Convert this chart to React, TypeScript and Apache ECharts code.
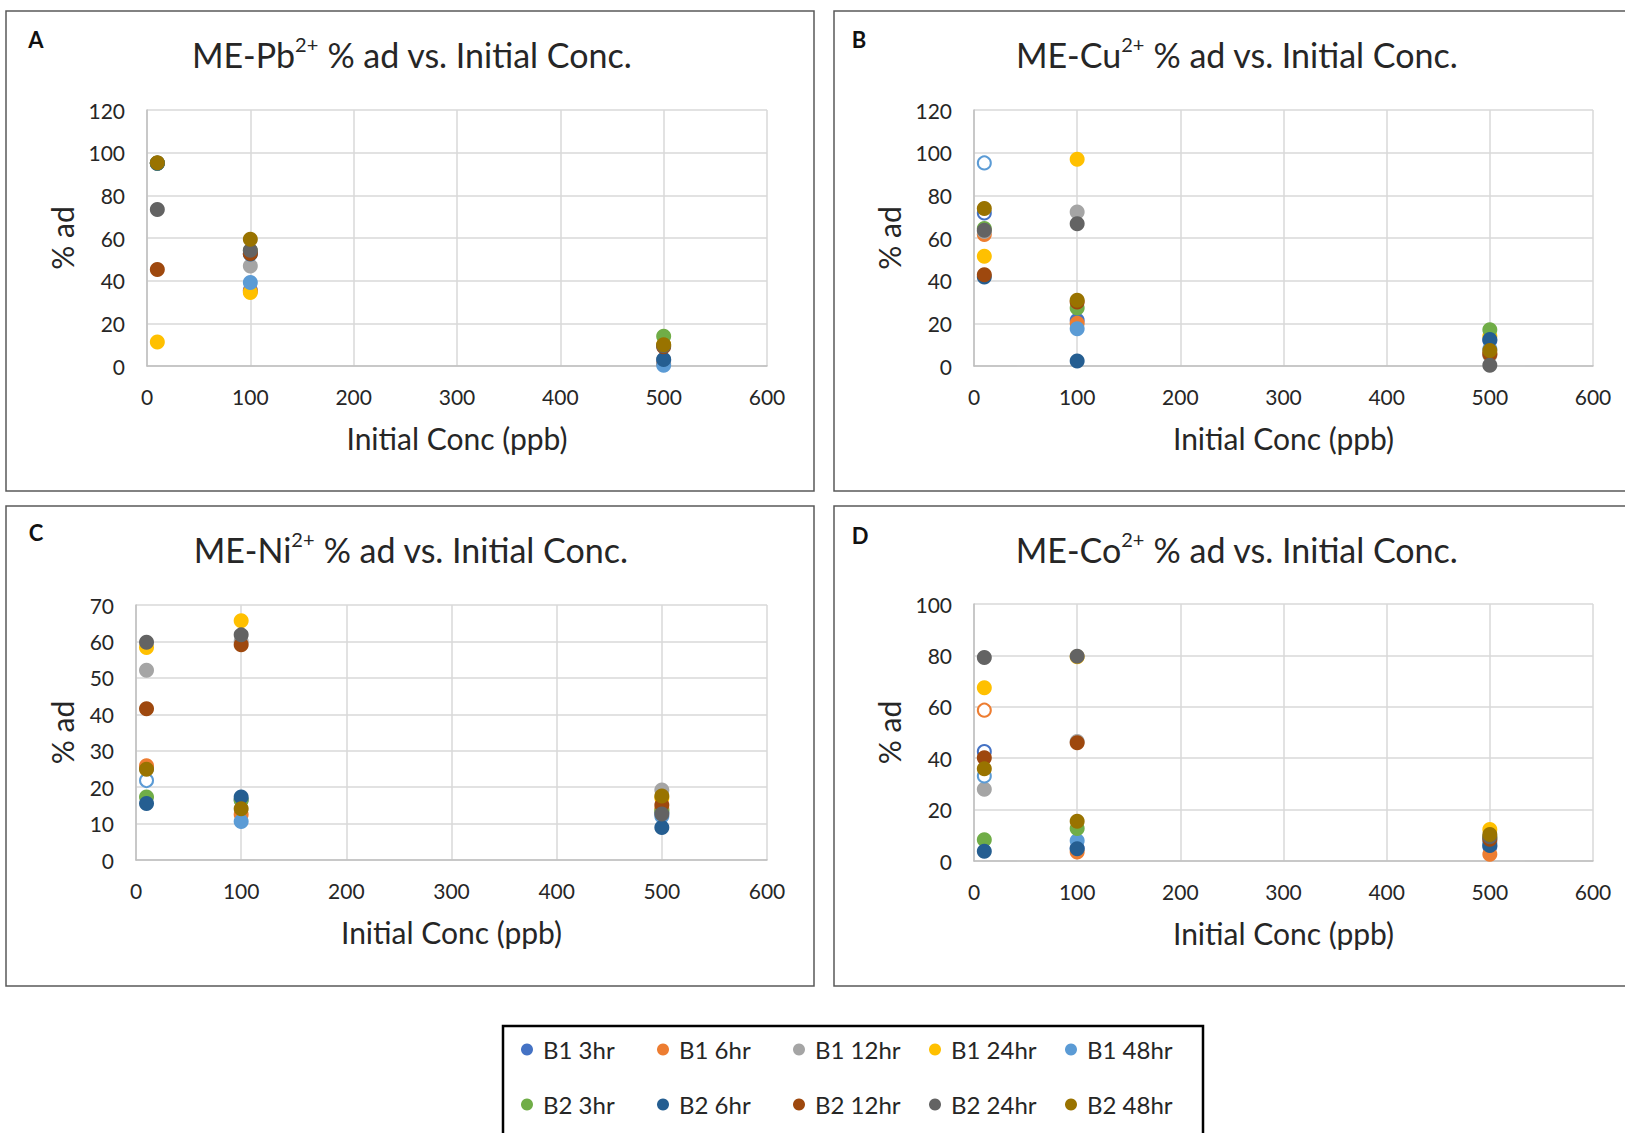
import React, { useEffect, useRef } from "react";
import * as echarts from "echarts";

// ---------- data ----------
const seriesNames = [
  "B1 3hr", "B1 6hr", "B1 12hr", "B1 24hr", "B1 48hr",
  "B2 3hr", "B2 6hr", "B2 12hr", "B2 24hr", "B2 48hr",
];
const seriesColors = [
  "#4472C4", "#ED7D31", "#A5A5A5", "#FFC000", "#5B9BD5",
  "#70AD47", "#255E91", "#9E480E", "#636363", "#997300",
];
// initial concentrations (ppb)
const concX = [10, 100, 500];

// % ad, one row per series (order as seriesNames), columns = concX
const pbValues: number[][] = [
  [95, 35.5, 2.5],
  [95, 35, 1],
  [95, 46.9, 3],
  [11.3, 34.4, 10],
  [95, 39.1, 0.3],
  [95, 54, 13.9],
  [95, 52.5, 3],
  [45.2, 52.7, 9],
  [73.4, 54.2, 9.5],
  [95.3, 59.4, 10],
];
const cuValues: number[][] = [
  [71.7, 21.4, 12],
  [61.6, 20, 6],
  [63, 72.2, 5],
  [51.4, 96.9, 14],
  [95.2, 17.5, 8],
  [64.4, 27.2, 17],
  [41.7, 2.3, 12.4],
  [42.8, 30, 5.5],
  [63.6, 66.7, 0.3],
  [73.8, 30.8, 7.3],
];
const niValues: number[][] = [
  [25.2, 16.5, 13],
  [25.9, 12.5, 14],
  [52.1, 60, 19.2],
  [58.3, 65.7, 17],
  [21.8, 10.6, 12],
  [17.3, 16.5, 13.5],
  [15.5, 17.3, 8.9],
  [41.5, 59.1, 15.1],
  [59.8, 61.8, 12.6],
  [24.9, 14.1, 17.6],
];
const coValues: number[][] = [
  [42.6, 5, 5.5],
  [58.7, 3.5, 2.6],
  [27.9, 46.5, 8],
  [67.4, 79.5, 12.3],
  [33.1, 7.9, 7],
  [8.3, 12.6, 9],
  [3.8, 4.8, 6],
  [40.2, 46, 8.5],
  [79.2, 79.7, 9.4],
  [35.9, 15.5, 10.3],
];
// hollow (unfilled) markers: [seriesIndex, pointIndex]
const pbHollow: number[][] = [];
const cuHollow: number[][] = [[0, 0], [4, 0]];
const niHollow: number[][] = [[0, 0], [4, 0]];
const coHollow: number[][] = [[0, 0], [1, 0], [4, 0]];

const xTicks = { min: 0, max: 600, interval: 100 };
const pbTicks = { min: 0, max: 120, interval: 20 };
const cuTicks = { min: 0, max: 120, interval: 20 };
const niTicks = { min: 0, max: 70, interval: 10 };
const coTicks = { min: 0, max: 100, interval: 20 };

const metals = ["Pb", "Cu", "Ni", "Co"];
const panelLetters = ["A", "B", "C", "D"];
const xAxisTitle = "Initial Conc (ppb)";
const yAxisTitle = "% ad";

// ---------- layout ----------
const FONT = "Lato, 'Noto Sans', sans-serif";
const TEXT = "#262626";
const panels = [
  { values: pbValues, hollow: pbHollow, ticks: pbTicks, box: [6, 11, 808, 480], grid: { left: 147, top: 110, width: 620, height: 256 }, title: [412, 54], letter: [36, 39], yGap: 70 },
  { values: cuValues, hollow: cuHollow, ticks: cuTicks, box: [834, 11, 808, 480], grid: { left: 974, top: 110, width: 619, height: 256 }, title: [1237, 54], letter: [859, 39], yGap: 70 },
  { values: niValues, hollow: niHollow, ticks: niTicks, box: [6, 506, 808, 480], grid: { left: 136, top: 605, width: 631, height: 255 }, title: [411, 549], letter: [36, 532], yGap: 59 },
  { values: coValues, hollow: coHollow, ticks: coTicks, box: [834, 506, 808, 480], grid: { left: 974, top: 604, width: 619, height: 257 }, title: [1237, 549], letter: [860, 535], yGap: 70 },
];

function buildOption() {
  const grids: any[] = [];
  const xAxes: any[] = [];
  const yAxes: any[] = [];
  const titles: any[] = [];
  const series: any[] = [];
  const graphics: any[] = [];

  panels.forEach((p, pi) => {
    grids.push({ ...p.grid, containLabel: false });
    xAxes.push({
      type: "value",
      gridIndex: pi,
      ...xTicks,
      name: xAxisTitle,
      nameLocation: "middle",
      nameGap: 57,
      nameTextStyle: { fontFamily: FONT, fontSize: 30, color: TEXT },
      axisLine: { show: true, lineStyle: { color: "#BFBFBF", width: 1.5 } },
      axisTick: { show: false },
      axisLabel: { fontFamily: FONT, fontSize: 21, color: TEXT, margin: 20 },
      splitLine: { show: true, lineStyle: { color: "#D9D9D9", width: 1.5 } },
    });
    yAxes.push({
      type: "value",
      gridIndex: pi,
      ...p.ticks,
      name: yAxisTitle,
      nameLocation: "middle",
      nameGap: p.yGap,
      nameRotate: 90,
      nameTextStyle: { fontFamily: FONT, fontSize: 30, color: TEXT },
      axisLine: { show: true, lineStyle: { color: "#BFBFBF", width: 1.5 } },
      axisTick: { show: false },
      axisLabel: { fontFamily: FONT, fontSize: 21, color: TEXT, margin: 22 },
      splitLine: { show: true, lineStyle: { color: "#D9D9D9", width: 1.5 } },
    });
    titles.push({
      text: `{n|ME-${metals[pi]}}{s|2+}{n| % ad vs. Initial Conc.}`,
      left: p.title[0],
      top: p.title[1],
      textAlign: "center",
      textVerticalAlign: "middle",
      padding: 0,
      textStyle: {
        fontFamily: FONT,
        color: TEXT,
        fontSize: 34,
        fontWeight: "normal",
        lineHeight: 40,
        rich: {
          n: { fontFamily: FONT, fontSize: 34, color: TEXT, lineHeight: 40 },
          s: { fontFamily: FONT, fontSize: 20, color: TEXT, lineHeight: 40, verticalAlign: "top" },
        },
      },
    });
    titles.push({
      text: panelLetters[pi],
      left: p.letter[0],
      top: p.letter[1],
      textAlign: "center",
      textVerticalAlign: "middle",
      padding: 0,
      textStyle: { fontFamily: FONT, fontSize: 22, fontWeight: "bold", color: "#111" },
    });
    graphics.push({
      type: "rect",
      shape: { x: p.box[0], y: p.box[1], width: p.box[2], height: p.box[3] },
      style: { fill: "none", stroke: "#595959", lineWidth: 1.5 },
      silent: true,
      z: -1,
    });

    seriesNames.forEach((name, si) => {
      const color = seriesColors[si];
      const data = p.values[si].map((y, k) => {
        const isHollow = p.hollow.some((h) => h[0] === si && h[1] === k);
        if (isHollow) {
          return {
            value: [concX[k], y],
            symbolSize: 13,
            itemStyle: { color: "#ffffff", borderColor: color, borderWidth: 2 },
          };
        }
        return { value: [concX[k], y] };
      });
      series.push({
        type: "scatter",
        name,
        xAxisIndex: pi,
        yAxisIndex: pi,
        symbol: "circle",
        symbolSize: 15,
        itemStyle: { color, opacity: 1 },
        data,
      });
    });
  });

  graphics.push({
    type: "rect",
    shape: { x: 503, y: 1026, width: 700, height: 130 },
    style: { fill: "none", stroke: "#000", lineWidth: 2.5 },
    silent: true,
  });

  return {
    animation: false,
    backgroundColor: "#ffffff",
    title: titles,
    grid: grids,
    xAxis: xAxes,
    yAxis: yAxes,
    legend: {
      data: seriesNames,
      left: 521,
      top: 1029,
      width: 700,
      orient: "horizontal",
      icon: "circle",
      itemWidth: 12,
      itemHeight: 12,
      itemGap: 14,
      padding: 0,
      textStyle: { fontFamily: FONT, fontSize: 24, color: TEXT, width: 100, lineHeight: 41, height: 41, padding: [0, 0, 0, 5] },
    },
    graphic: graphics,
    series,
  };
}

export default function App() {
  const ref = useRef<HTMLDivElement>(null);
  useEffect(() => {
    if (!ref.current) return;
    const chart = echarts.init(ref.current, null, { renderer: "svg" });
    chart.setOption(buildOption() as any);
    return () => chart.dispose();
  }, []);
  return (
    <div
      ref={ref}
      style={{ position: "fixed", left: 0, top: 0, width: 1625, height: 1133, background: "#fff" }}
    />
  );
}
